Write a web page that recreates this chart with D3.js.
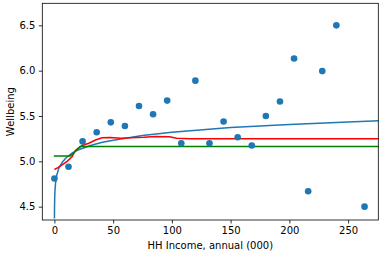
<!DOCTYPE html>
<html>
<head>
<meta charset="utf-8">
<script src="https://cdn.jsdelivr.net/npm/d3@7"></script>
<style>
body { margin: 0; background: #fff; }
svg { display: block; }
text { font-family: "DejaVu Sans", sans-serif; fill: #000; }
</style>
</head>
<body>
<svg id="chart" width="382" height="256"></svg>
<script>
// Scatter data: household income (000) vs wellbeing
const incomeX = [0, 12, 24, 36, 48, 60, 72, 84, 96, 108, 120, 132, 144, 156, 168, 180, 192, 204, 216, 228, 240, 264];
const wellbeingY = [4.81, 4.94, 5.22, 5.32, 5.43, 5.39, 5.61, 5.52, 5.67, 5.20, 5.89, 5.20, 5.44, 5.265, 5.175, 5.50, 5.66, 6.135, 4.67, 5.995, 6.50, 4.50];

// Blue log-shaped fit
const fitX = [0.04, 0.1, 0.25, 0.5, 1, 2, 4, 7, 10, 15, 20, 30, 40, 50, 75, 100, 150, 200, 250, 280];
const fitY = [4.37, 4.482, 4.594, 4.678, 4.763, 4.848, 4.932, 4.995, 5.04, 5.09, 5.125, 5.172, 5.207, 5.233, 5.285, 5.322, 5.372, 5.407, 5.435, 5.45];

// Red smoothed curve
const smoothX = [0, 3, 6.6, 10.8, 15, 18, 23.6, 29.3, 35, 40.6, 47, 57, 65, 76, 86, 98, 104, 115, 280];
const smoothY = [4.91, 4.93, 4.96, 5.0, 5.05, 5.12, 5.175, 5.2, 5.235, 5.26, 5.262, 5.255, 5.26, 5.265, 5.275, 5.272, 5.255, 5.25, 5.25];

// Green step curve
const stepX = [-0.5, 13.5, 16, 19, 22, 280];
const stepY = [5.06, 5.06, 5.09, 5.13, 5.163, 5.163];

const xTicks = [0, 50, 100, 150, 200, 250];
const yTicks = [4.5, 5.0, 5.5, 6.0, 6.5];

const svg = d3.select("#chart");
const L = 42.3, R = 378.3, T = 3.3, B = 220;

const x = d3.scaleLinear().domain([-10.3, 275.7]).range([L, R]);
const y = d3.scaleLinear().domain([4.353, 6.743]).range([B, T]);

svg.append("defs").append("clipPath").attr("id", "clip")
  .append("rect").attr("x", L).attr("y", T).attr("width", R - L).attr("height", B - T);

const g = svg.append("g").attr("clip-path", "url(#clip)");
const line = d3.line().x(d => x(d[0])).y(d => y(d[1]));

const series = [
  [fitX, fitY, "#1f77b4"],
  [smoothX, smoothY, "#ff0000"],
  [stepX, stepY, "#008000"]
];
series.forEach(([xs, ys, c]) => {
  g.append("path")
    .attr("d", line(xs.map((v, i) => [v, ys[i]])))
    .attr("fill", "none").attr("stroke", c).attr("stroke-width", 1.5);
});

g.selectAll("circle").data(incomeX.map((v, i) => [v, wellbeingY[i]]))
  .enter().append("circle")
  .attr("cx", d => x(d[0])).attr("cy", d => y(d[1]))
  .attr("r", 3.3).attr("fill", "#1f77b4");

// axes
const xAxis = d3.axisBottom(x).tickValues(xTicks).tickFormat(d3.format("d")).tickSize(3.5).tickPadding(3.5);
const yAxis = d3.axisLeft(y).tickValues(yTicks).tickFormat(d3.format(".1f")).tickSize(3.5).tickPadding(3.5);

const gx = svg.append("g").attr("transform", `translate(0,${B})`).call(xAxis);
const gy = svg.append("g").attr("transform", `translate(${L},0)`).call(yAxis);
[gx, gy].forEach(a => {
  a.select(".domain").remove();
  a.selectAll("text").attr("font-size", 10).attr("font-family", "DejaVu Sans").attr("fill", "#000");
  a.selectAll("line").attr("stroke", "#000").attr("stroke-width", 0.8);
});

// frame
svg.append("rect").attr("x", L).attr("y", T).attr("width", R - L).attr("height", B - T)
  .attr("fill", "none").attr("stroke", "#000").attr("stroke-width", 0.8);

svg.append("text").attr("x", (L + R) / 2).attr("y", 248.5)
  .attr("text-anchor", "middle").attr("font-size", 10).text("HH Income, annual (000)");
svg.append("text").attr("transform", `translate(13.5,${(T + B) / 2}) rotate(-90)`)
  .attr("text-anchor", "middle").attr("font-size", 10).text("Wellbeing");
</script>
</body>
</html>
